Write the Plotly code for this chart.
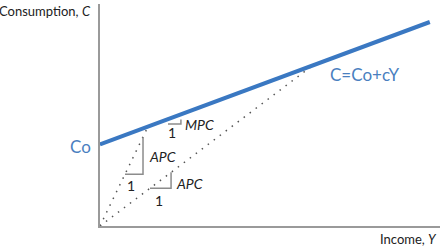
import plotly.graph_objects as go

# Consumption function C = Co + cY (chart units)
line_Y = [0, 9.7]
line_C = [2.4, 6.0]

# Rays from the origin to two points on the consumption line (APC)
ray1_Y = [0, 1.41]
ray1_C = [0, 2.92]
ray2_Y = [0, 6.24]
ray2_C = [0, 4.71]

# Slope triangles: horizontal run "1" then vertical rise
tri_mpc_Y = [2.0, 2.38, 2.38]
tri_mpc_C = [3.0, 3.0, 3.13]
tri_apc1_Y = [0.735, 1.265, 1.265]
tri_apc1_C = [1.52, 1.52, 2.61]
tri_apc2_Y = [1.47, 2.09, 2.09]
tri_apc2_C = [1.11, 1.11, 1.58]

FONT = "Lato"
BLUE = "#3a78c2"
TXT_BLUE = "#4a7fbf"
GRAY = "#8c8c8c"

fig = go.Figure()
for xs, ys in [(ray1_Y, ray1_C), (ray2_Y, ray2_C)]:
    fig.add_trace(go.Scatter(x=xs, y=ys, mode="lines",
                             line=dict(color="#555555", width=1.5, dash="1.5px,6px"),
                             hoverinfo="skip"))
for xs, ys in [(tri_mpc_Y, tri_mpc_C), (tri_apc1_Y, tri_apc1_C), (tri_apc2_Y, tri_apc2_C)]:
    fig.add_trace(go.Scatter(x=xs, y=ys, mode="lines",
                             line=dict(color=GRAY, width=1.5), hoverinfo="skip"))
fig.add_trace(go.Scatter(x=line_Y, y=line_C, mode="lines",
                         line=dict(color=BLUE, width=4), hoverinfo="skip"))

# in-plot labels (axis coordinates)
ann = [
    dict(x=6.7, y=4.46, text="C=Co+cY", xanchor="left", size=17, color=TXT_BLUE),
    dict(x=2.44, y=3.0, text="<i>MPC</i>", xanchor="left", size=14, color="#222"),
    dict(x=2.12, y=2.74, text="1", xanchor="center", size=14, color="#222"),
    dict(x=1.38, y=2.03, text="<i>APC</i>", xanchor="left", size=14, color="#222"),
    dict(x=0.91, y=1.2, text="1", xanchor="center", size=14, color="#222"),
    dict(x=2.18, y=1.26, text="<i>APC</i>", xanchor="left", size=14, color="#222"),
    dict(x=1.74, y=0.76, text="1", xanchor="center", size=14, color="#222"),
]
for a in ann:
    fig.add_annotation(x=a["x"], y=a["y"], xref="x", yref="y", text=a["text"],
                       showarrow=False, xanchor=a["xanchor"], yanchor="middle",
                       font=dict(family=FONT, size=a["size"], color=a["color"]))

# outside labels (paper coordinates)
pann = [
    dict(x=-0.0206, y=0.968, text="Consumption, <i>C</i>", size=13, color="#222"),
    dict(x=0.997, y=-0.0586, text="Income, <i>Y</i>", size=13, color="#222"),
    dict(x=-0.0206, y=0.356, text="Co", size=17, color=TXT_BLUE),
]
for a in pann:
    fig.add_annotation(x=a["x"], y=a["y"], xref="paper", yref="paper", text=a["text"],
                       showarrow=False, xanchor="right", yanchor="middle",
                       font=dict(family=FONT, size=a["size"], color=a["color"]))

fig.update_layout(
    width=448, height=252, margin=dict(l=100, r=8, t=4, b=26),
    paper_bgcolor="white", plot_bgcolor="white", showlegend=False,
    xaxis=dict(range=[0, 10], showgrid=False, zeroline=False, showticklabels=False,
               ticks="", showline=True, linecolor="#9a9a9a", linewidth=2, fixedrange=True),
    yaxis=dict(range=[0, 222 / 34], showgrid=False, zeroline=False, showticklabels=False,
               ticks="", showline=True, linecolor="#9a9a9a", linewidth=2, fixedrange=True),
)
fig.write_html("out.html")
